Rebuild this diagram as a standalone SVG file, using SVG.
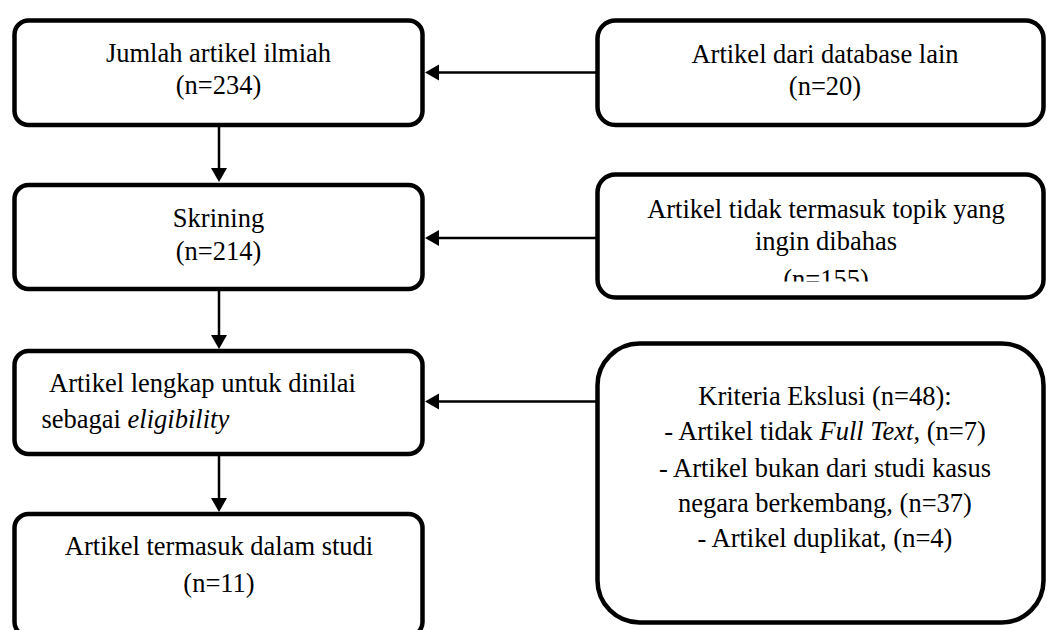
<svg xmlns="http://www.w3.org/2000/svg" width="1047" height="630" viewBox="0 0 1047 630">
<style>
.box{fill:#fff;stroke:#000;stroke-width:4.5}
.t{font-family:'Times New Roman','Liberation Serif',Tinos,serif;font-size:26.5px;fill:#000}
.c{text-anchor:middle}
.conn{stroke:#000;stroke-width:2.5;fill:none}
.head{fill:#000;stroke:none}
</style>
<defs>
<clipPath id="clip2"><rect x="600" y="170" width="440" height="111.5"/></clipPath>
</defs>
<rect width="1047" height="630" fill="#fff"/>

<g id="connectors">
<line class="conn" x1="597" y1="72.5" x2="436" y2="72.5"/>
<polygon class="head" points="425,72.5 439,64.5 439,80.5"/>
<line class="conn" x1="597" y1="238" x2="436" y2="238"/>
<polygon class="head" points="425,238 439,230 439,246"/>
<line class="conn" x1="597" y1="401.5" x2="436" y2="401.5"/>
<polygon class="head" points="425,401.5 439,393.5 439,409.5"/>
<line class="conn" x1="219" y1="127" x2="219" y2="171"/>
<polygon class="head" points="219,182 211,168 227,168"/>
<line class="conn" x1="219" y1="291" x2="219" y2="338"/>
<polygon class="head" points="219,349 211,335 227,335"/>
<line class="conn" x1="219" y1="456" x2="219" y2="501"/>
<polygon class="head" points="219,512 211,498 227,498"/>
</g>

<g id="n1">
<rect class="box" x="14.5" y="20.5" width="408" height="104.5" rx="14"/>
<text class="t c" x="218.5" y="62">Jumlah artikel ilmiah</text>
<text class="t c" x="218.5" y="94">(n=234)</text>
</g>

<g id="n2">
<rect class="box" x="14.5" y="185" width="408" height="104" rx="14"/>
<text class="t c" x="218.5" y="227">Skrining</text>
<text class="t c" x="218.5" y="260">(n=214)</text>
</g>

<g id="n3">
<rect class="box" x="14.5" y="351" width="408" height="103" rx="14"/>
<text class="t" x="49" y="391.5">Artikel lengkap untuk dinilai</text>
<text class="t" x="41.5" y="428">sebagai <tspan font-style="italic">eligibility</tspan></text>
</g>

<g id="n4">
<rect class="box" x="14.5" y="514" width="408" height="122" rx="14"/>
<text class="t c" x="219" y="555">Artikel termasuk dalam studi</text>
<text class="t c" x="219" y="591.5">(n=11)</text>
</g>

<g id="r1">
<rect class="box" x="597.5" y="20.5" width="446" height="104.5" rx="18"/>
<text class="t c" x="825" y="62.5">Artikel dari database lain</text>
<text class="t c" x="825" y="95">(n=20)</text>
</g>

<g id="r2">
<rect class="box" x="597.5" y="174.5" width="446" height="123" rx="18"/>
<text class="t c" x="826" y="217.5">Artikel tidak termasuk topik yang</text>
<text class="t c" x="826" y="249.5">ingin dibahas</text>
<text class="t c" x="826" y="288" clip-path="url(#clip2)">(n=155)</text>
</g>

<g id="r3">
<rect class="box" x="597.5" y="343.5" width="446" height="279" rx="42"/>
<text class="t c" x="825" y="405">Kriteria Ekslusi (n=48):</text>
<text class="t c" x="825" y="440">- Artikel tidak <tspan font-style="italic">Full Text</tspan>, (n=7)</text>
<text class="t c" x="825" y="476.5">- Artikel bukan dari studi kasus</text>
<text class="t c" x="825" y="511.5">negara berkembang, (n=37)</text>
<text class="t c" x="825" y="546.5">- Artikel duplikat, (n=4)</text>
</g>
</svg>
